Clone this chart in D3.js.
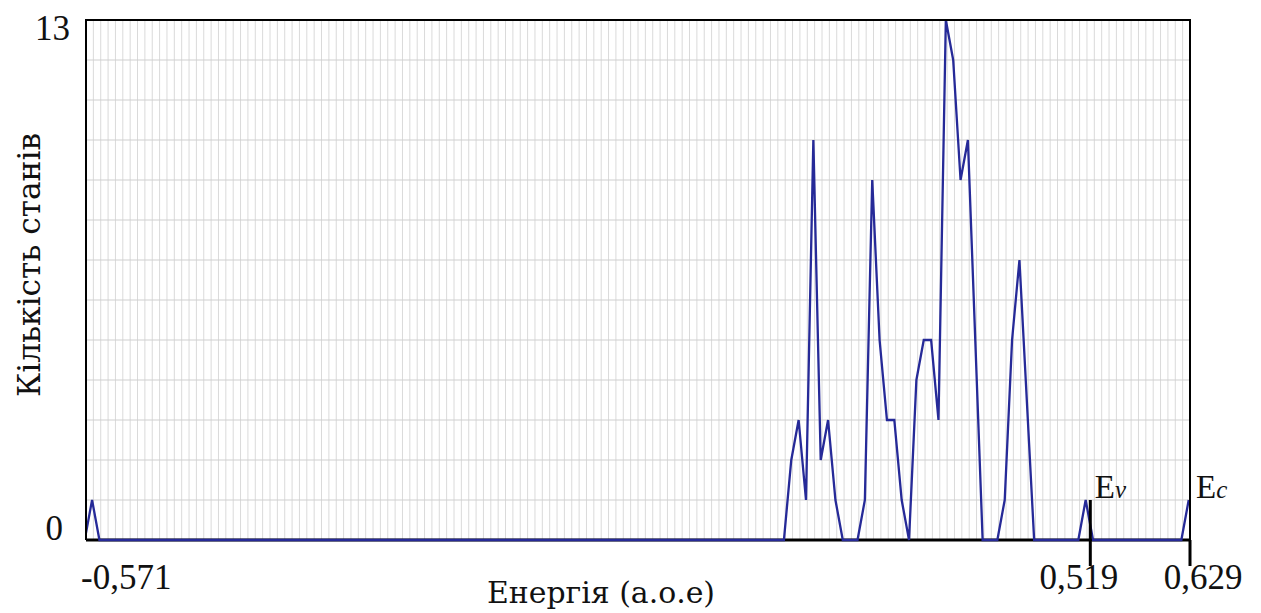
<!DOCTYPE html>
<html>
<head>
<meta charset="utf-8">
<script src="https://cdn.jsdelivr.net/npm/d3@7"></script>
<style>
  html, body { margin: 0; padding: 0; background: #fff; }
  svg { display: block; }
  text { font-family: "Liberation Serif", "DejaVu Serif", serif; fill: #111; }
  .cyr { font-family: "DejaVu Serif Condensed", "DejaVu Serif", "Liberation Serif", serif; }
</style>
</head>
<body>
<svg id="chart" width="1261" height="613"></svg>
<script>
// ---- data (polyline vertices) ----
const energies = [-0.5724, -0.5644, -0.5564, 0.1876, 0.1956, 0.2036, 0.2116, 0.2196, 0.2276, 0.2356, 0.2436, 0.2516,
  0.2676, 0.2756, 0.2836, 0.2916, 0.2996, 0.3076, 0.3156, 0.3236, 0.3316, 0.3396, 0.3476, 0.3556,
  0.3636, 0.3716, 0.3796, 0.3876, 0.3956, 0.4036, 0.4196, 0.4276, 0.4356, 0.4436, 0.4516, 0.4596,
  0.5076, 0.5156, 0.5236, 0.6196, 0.6276];
const counts = [0, 1, 0, 0, 2, 3, 1, 10, 2, 3, 1, 0,
  0, 1, 9, 5, 3, 3, 1, 0, 4, 5, 5, 3,
  13, 12, 9, 10, 5, 0, 0, 1, 5, 7, 3.5, 0,
  0, 1, 0, 0, 1];
const xDomain = [-0.571, 0.629];
const yDomain = [0, 13];
const yTickLabels = ["0", "13"];
const xTickValues = [-0.571, 0.519, 0.629];
const xTickLabels = ["-0,571", "0,519", "0,629"];
const binStep = 0.008;
const markers = [{ e: 0.519, name: "E", sub: "v" }, { e: 0.629, name: "E", sub: "c" }];
const xTitle = "Енергія (а.о.е)";
const yTitle = "Кількість станів";

// ---- layout ----
const L = 86, T = 20, R = 1190, B = 540;
const svg = d3.select("#chart");
const x = d3.scaleLinear().domain(xDomain).range([L, R]);
const y = d3.scaleLinear().domain(yDomain).range([B, T]);

// grid
const nBins = Math.round((xDomain[1] - xDomain[0]) / binStep);
const vGrid = d3.range(1, nBins).map(i => xDomain[0] + i * binStep);
svg.append("g").selectAll("line").data(vGrid).join("line")
  .attr("x1", d => x(d)).attr("x2", d => x(d))
  .attr("y1", T).attr("y2", B)
  .attr("stroke", "#dadada").attr("stroke-width", 1);
svg.append("g").selectAll("line").data(d3.range(1, 13)).join("line")
  .attr("x1", L).attr("x2", R)
  .attr("y1", d => y(d)).attr("y2", d => y(d))
  .attr("stroke", "#cfcfcf").attr("stroke-width", 1);

// clip
svg.append("clipPath").attr("id", "clip").append("rect")
  .attr("x", L).attr("y", T - 2).attr("width", R - L).attr("height", B - T + 4);

// baseline (black)
svg.append("line").attr("x1", L).attr("x2", R).attr("y1", B).attr("y2", B)
  .attr("stroke", "#000").attr("stroke-width", 3);

// data line
const pts = energies.map((e, i) => [e, counts[i]]);
svg.append("path").datum(pts)
  .attr("clip-path", "url(#clip)")
  .attr("fill", "none")
  .attr("stroke", "#262a98")
  .attr("stroke-width", 2.3)
  .attr("stroke-linejoin", "miter")
  .attr("d", d3.line().x(d => x(d[0])).y(d => y(d[1])));

// frame (left, top, right)
svg.append("path")
  .attr("d", `M${L},${B}V${T}H${R}V${B}`)
  .attr("fill", "none").attr("stroke", "#000").attr("stroke-width", 2);

// Ev / Ec marker lines
svg.append("g").selectAll("line").data(markers).join("line")
  .attr("x1", d => x(d.e) + (d.e >= xDomain[1] ? 0 : 1.5)).attr("x2", d => x(d.e) + (d.e >= xDomain[1] ? 0 : 1.5))
  .attr("y1", d => d.e >= xDomain[1] ? B : y(1))
  .attr("y2", 566)
  .attr("stroke", "#000").attr("stroke-width", 3);

const mk = svg.append("g").selectAll("text").data(markers).join("text")
  .attr("x", d => x(d.e) + 6).attr("y", 498)
  .attr("font-size", 33);
mk.append("tspan").text(d => d.name);
mk.append("tspan").text(d => d.sub).attr("font-style", "italic").attr("font-size", 25);

// y tick labels
svg.append("text").attr("x", 70).attr("y", 40).attr("text-anchor", "end")
  .attr("font-size", 35).text(yTickLabels[1]);
svg.append("text").attr("x", 63).attr("y", 540).attr("text-anchor", "end")
  .attr("font-size", 35).text(yTickLabels[0]);

// x tick labels
const xLabOffset = [ { dx: -5, anchor: "start" }, { dx: -10, anchor: "middle" }, { dx: 13, anchor: "middle" } ];
svg.append("g").selectAll("text").data(xTickValues).join("text")
  .attr("x", (d, i) => x(d) + xLabOffset[i].dx)
  .attr("y", 589)
  .attr("text-anchor", (d, i) => xLabOffset[i].anchor)
  .attr("font-size", 35)
  .text((d, i) => xTickLabels[i]);

// axis titles
svg.append("text").attr("class", "cyr").attr("x", 487).attr("y", 603)
  .attr("font-size", 30)
  .attr("textLength", 228).attr("lengthAdjust", "spacingAndGlyphs")
  .text(xTitle);
svg.append("text").attr("class", "cyr").attr("transform", "translate(40,397) rotate(-90)")
  .attr("font-size", 32)
  .attr("textLength", 264).attr("lengthAdjust", "spacingAndGlyphs")
  .text(yTitle);
</script>
</body>
</html>
